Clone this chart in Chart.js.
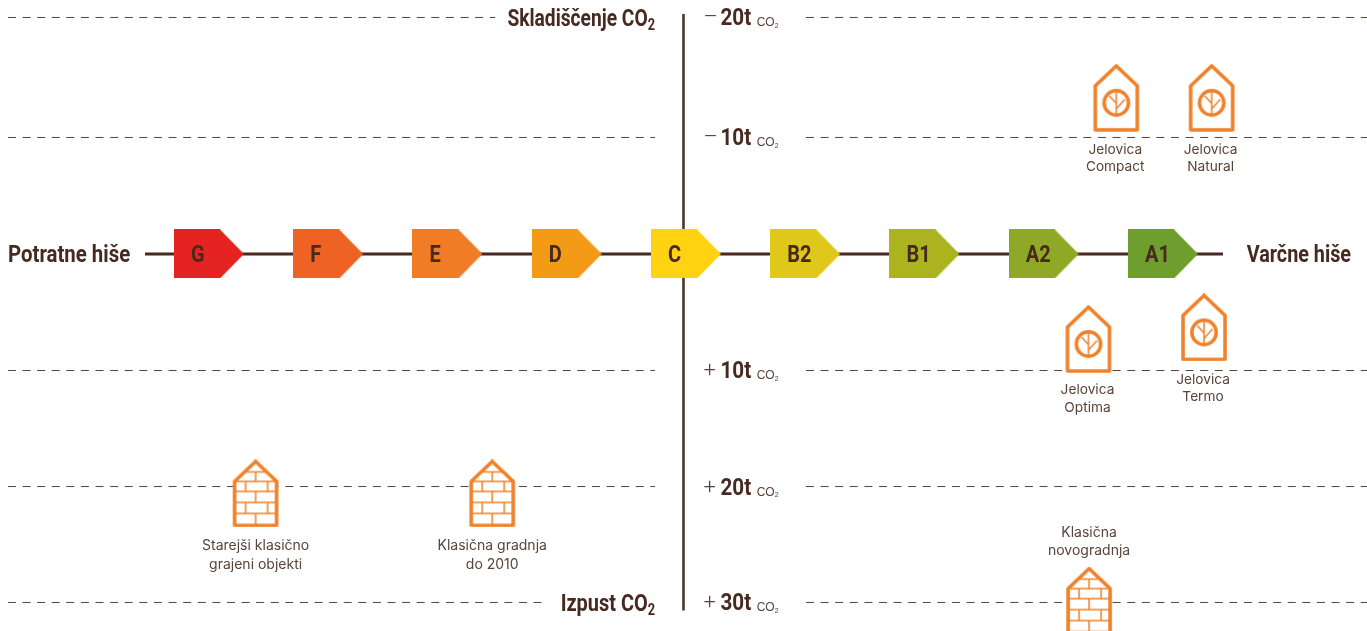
<!DOCTYPE html>
<html><head><meta charset="utf-8">
<style>html,body{margin:0;padding:0;background:#fff}canvas{display:block}</style>
<script src="https://cdn.jsdelivr.net/npm/chart.js@4"></script>
</head><body><canvas id="c" width="1367" height="631"></canvas>
<script>
// energy classes (x axis: 0..8), y axis: tonnes of CO2 (positive = stored)
const classes = ['G','F','E','D','C','B2','B1','A2','A1'];
const classColors = ['#E52421','#EE6223','#F07D26','#F39A17','#FFD212','#DFC81A','#ABB41E','#8FA926','#6E9E2E'];
const axisEnds = ['Potratne hiše','Varčne hiše'];
const axisTitles = ['Skladiščenje CO','Izpust CO'];
const tickValues = [20.3,10,-10,-19.96,-29.91];
const tickSigns = ['–','–','+','+','+'];
const tickNames = ['20t','10t','10t','20t','30t'];
const gridLeftEnds = [2.40,3.74,3.74,3.74,2.84];
const houseNames = [['Jelovica','Compact'],['Jelovica','Natural'],['Jelovica','Optima'],['Jelovica','Termo'],['Starejši klasično','grajeni objekti'],['Klasična gradnja','do 2010'],['Klasična','novogradnja']];
const houseX = [7.608,8.408,7.375,8.344,0.391,2.375,7.38];
const houseY = [13.4,13.4,-7.3,-6.3,-20.55,-20.55,-29.75];
const houseKind = ['wood','wood','wood','wood','brick','brick','brick'];
const labelAbove = [false,false,false,false,false,false,true];
const labelShift = [-1,-1,-2,-0.5,0,0,-1.5];

const ORANGE='#F08129', BROWN='#46291F', TEXT='#5A4339';
function mk(w,h,fn){const c=document.createElement('canvas');c.width=w;c.height=h;fn(c.getContext('2d'));return c;}
function arrowIcon(col){return mk(70,49,g=>{g.fillStyle=col;g.beginPath();g.moveTo(0,0);g.lineTo(46,0);g.lineTo(70,24.5);g.lineTo(46,49);g.lineTo(0,49);g.closePath();g.fill();});}
function shell(g){
  g.fillStyle='#fff';
  g.beginPath();g.moveTo(24,2);g.lineTo(45,22);g.lineTo(45,66);g.lineTo(3,66);g.lineTo(3,22);g.closePath();g.fill();
}
function outline(g){g.lineJoin='round';g.lineWidth=3.6;g.strokeStyle=ORANGE;g.beginPath();g.moveTo(24,2);g.lineTo(45,22);g.lineTo(45,66);g.lineTo(3,66);g.lineTo(3,22);g.closePath();g.stroke();}
const woodIcon=mk(48,68,g=>{shell(g);outline(g);
  g.beginPath();g.lineWidth=3.5;g.arc(24,39,12.2,0,Math.PI*2);g.stroke();
  g.lineWidth=1.5;g.beginPath();g.moveTo(24,28);g.lineTo(24,50);g.moveTo(24,39.5);g.lineTo(17,32);g.moveTo(24,45);g.lineTo(32.5,35.5);g.stroke();});
const brickIcon=mk(48,68,g=>{shell(g);
  g.lineWidth=1.5;g.strokeStyle=ORANGE;g.beginPath();
  g.moveTo(14,12.5);g.lineTo(34,12.5);g.moveTo(24,12.5);g.lineTo(24,22);
  g.moveTo(3,22);g.lineTo(45,22);
  g.moveTo(3,32);g.lineTo(45,32);g.moveTo(3,43);g.lineTo(45,43);g.moveTo(3,54);g.lineTo(45,54);
  g.moveTo(14,22);g.lineTo(14,32);g.moveTo(36,22);g.lineTo(36,32);
  g.moveTo(24,32);g.lineTo(24,43);
  g.moveTo(14,43);g.lineTo(14,54);g.moveTo(36,43);g.lineTo(36,54);
  g.moveTo(24,54);g.lineTo(24,66);g.stroke();outline(g);});

const XMIN=-1.7526,XMAX=9.7107,YMIN=-32.36,YMAX=21.80;
const XAXIS=3.979;
const datasets=[];
tickValues.forEach((v,i)=>{
  const common={showLine:true,pointRadius:0,borderColor:'#5A4339',borderWidth:1,borderDash:[8,6.6],order:5,clip:false};
  datasets.push({...common,data:[{x:-1.686,y:v},{x:gridLeftEnds[i],y:v}]});
  datasets.push({...common,data:[{x:5.006,y:v},{x:XMAX,y:v}]});
});
datasets.push({showLine:true,pointRadius:0,borderColor:BROWN,borderWidth:3,order:4,data:[{x:-0.537,y:0},{x:8.503,y:0}]});
datasets.push({showLine:true,pointRadius:0,borderColor:'#4F362B',borderWidth:2.6,order:4,data:[{x:XAXIS,y:20.6},{x:XAXIS,y:-30.6}]});
datasets.push({showLine:false,order:1,pointRadius:20,pointStyle:classColors.map(arrowIcon),data:classes.map((_,i)=>({x:i,y:0}))});
datasets.push({showLine:false,order:1,pointRadius:20,pointStyle:houseKind.map(k=>k==='wood'?woodIcon:brickIcon),data:houseX.map((x,i)=>({x,y:houseY[i]}))});

const textPlugin={id:'texts',afterDatasetsDraw(ch){
  const g=ch.ctx,X=ch.scales.x,Y=ch.scales.y;
  const put=(s,x,y,font,col,al)=>{g.font=font;g.fillStyle=col;g.textAlign=al||'left';g.textBaseline='alphabetic';g.fillText(s,x,y);};
  // condensed bold headline text: Roboto squeezed horizontally; returns drawn width
  const head=(s,x,y,size,al,sx)=>{sx=sx||0.8;g.save();g.translate(x,y);g.scale(sx,1);put(s,0,0,'700 '+size+'px Roboto',BROWN,al);const w=g.measureText(s).width*sx;g.restore();return w;};
  g.save();
  classes.forEach((c,i)=>head(c,X.getPixelForValue(i)-18,Y.getPixelForValue(0)+8,23,'left',0.87));
  const y0=Y.getPixelForValue(0)+8;
  head(axisEnds[0],X.getPixelForValue(-1.686),y0,24,'left',0.85);
  head(axisEnds[1],X.getPixelForValue(9.577),y0,24,'right',0.825);
  const titleX=X.getPixelForValue(3.74);
  [[0,tickValues[0]],[1,tickValues[4]]].forEach(([k,v])=>{
    const y=Y.getPixelForValue(v)+8.5;
    const w=head('2',titleX,y+4,16,'right');
    head(axisTitles[k],titleX-w,y,24,'right',k?0.83:0.8);
  });
  tickValues.forEach((v,i)=>{
    const y=Y.getPixelForValue(v)+8, x=X.getPixelForValue(XAXIS);
    put(tickSigns[i],x+20,y-1,'300 22px Roboto',TEXT);
    const w=head(tickNames[i],x+37,y,24,'left',0.86);
    put('CO',x+37+w+5.5,y+1,'12px "Liberation Sans"',TEXT);
    g.font='12px "Liberation Sans"';const w2=g.measureText('CO').width;
    put('2',x+37+w+5.5+w2,y+2.5,'7px "Liberation Sans"',TEXT);
  });
  houseNames.forEach((lines,i)=>{
    const wood=houseKind[i]==='wood';
    const x=X.getPixelForValue(houseX[i])-(wood?1:0),cy=Y.getPixelForValue(houseY[i]);
    const lh=houseKind[i]==='brick'&&!labelAbove[i]?19:17.6;
    const first=(labelAbove[i]?cy-33-11-lh:cy+33+24)+labelShift[i];
    lines.forEach((s,j)=>put(s,x,first+j*lh,(wood?'13.7':'14')+'px "Inter"',TEXT,'center'));
  });
  g.restore();
}};
new Chart(document.getElementById('c'),{type:'scatter',data:{datasets},plugins:[textPlugin],options:{
  responsive:false,animation:false,events:[],layout:{padding:0,autoPadding:false},
  plugins:{legend:{display:false},tooltip:{enabled:false},title:{display:false}},
  scales:{x:{type:'linear',min:XMIN,max:XMAX,display:false},y:{type:'linear',min:YMIN,max:YMAX,display:false}}
}});
</script></body></html>
